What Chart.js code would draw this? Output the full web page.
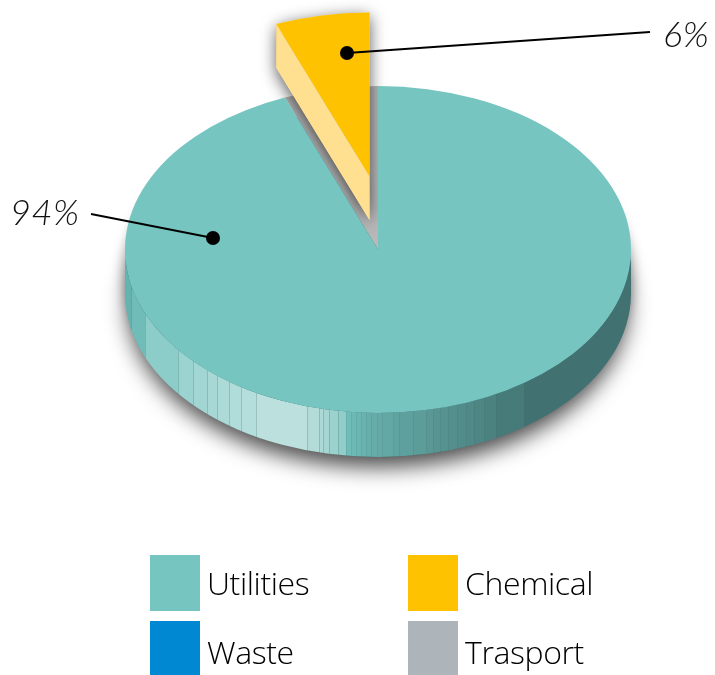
<!DOCTYPE html>
<html>
<head>
<meta charset="utf-8">
<script src="https://cdn.jsdelivr.net/npm/chart.js@4"></script>
<style>
html, body { margin: 0; padding: 0; background: #fff; }
#wrap { position: relative; width: 715px; height: 675px; overflow: hidden; }
canvas { position: absolute; left: 0; top: 0; }
.pct { position: absolute; font: italic 300 36px Lato, sans-serif; letter-spacing: 0.6px; color: #111; line-height: 1; white-space: nowrap; }
.box { position: absolute; width: 50px; }
.name { position: absolute; font: 300 32px "Open Sans", sans-serif; letter-spacing: -0.4px; color: #000; line-height: 1; white-space: nowrap; }
</style>
</head>
<body>
<div id="wrap"><canvas id="myChart" width="715" height="675"></canvas></div>
<script>
const categories = ['Utilities', 'Chemical', 'Waste', 'Trasport'];
const shares = [94, 6, 0, 0];
const colors = ['#77c5c1', '#ffc200', '#0089d2', '#adb5bb'];

const squash = 0.646;
const depth = 44;
const wedgeShift = { x: -8.5, y: -73.5 };
const wedgeWall = '#ffdf90';

// strips on the rim, [left edge in px, colour]
const rimBands = [
    [125, '#65b3af'], [131, '#6fbcb8'], [145, '#8ccdc9'], [178, '#9ad3cf'], [193, '#a2d6d3'],
    [207, '#a7d8d5'], [217, '#acdad7'], [229, '#b0dcd9'], [241, '#b4dedb'], [256, '#bbe0dd'],
    [307, '#b3dcd9'], [319, '#acd9d6'], [323, '#a5d6d3'], [329, '#9cd2ce'], [338, '#92cdc9'],
    [346, '#6fbcb8'], [351, '#6db9b5'], [356, '#6bb6b2'], [361, '#69b2ae'], [366, '#68afab'],
    [371, '#66aca8'], [377, '#65aaa6'], [382, '#64a8a4'], [393, '#60a3a0'], [399, '#5ea09d'],
    [413, '#5c9c99'], [426, '#5a9896'], [433, '#589592'], [440, '#56928f'], [448, '#548f8d'],
    [457, '#528c8a'], [466, '#508987'], [474, '#4e8684'], [484, '#4b8280'], [496, '#477b79'],
    [524, '#417170']
];

// leader lines for the two percentage labels
const leaders = [
    { from: [213, 238], to: [91, 214] },
    { from: [347, 53], to: [650, 32] }
];
const labelSpots = [[10, 193], [663, 15]];

const drawArc = (ctx, el, dx, dy) => {
    ctx.save();
    ctx.translate(el.x + dx, el.y + dy);
    ctx.scale(1, squash);
    ctx.translate(-el.x, -el.y);
    el.draw(ctx);
    ctx.restore();
};

const pie3d = {
    id: 'pie3d',
    beforeDatasetsDraw(chart) {
        const ctx = chart.ctx;
        const arcs = chart.getDatasetMeta(0).data;
        const main = arcs[0];
        const wedge = arcs[1];
        const cx = main.x, cy = main.y, R = main.outerRadius, Ry = R * squash;

        const rimPath = () => {
            ctx.beginPath();
            ctx.ellipse(cx, cy, R, Ry, 0, 0, Math.PI);
            ctx.lineTo(cx - R, cy + depth);
            ctx.ellipse(cx, cy + depth, R, Ry, 0, Math.PI, 0, true);
            ctx.closePath();
        };
        const onEdge = (angle, dx, dy) => [cx + dx + R * Math.cos(angle), cy + dy + Ry * Math.sin(angle)];

        // soft shadow under the whole disc
        ctx.save();
        ctx.fillStyle = '#417170';
        ctx.shadowColor = 'rgba(0,0,0,0.35)';
        ctx.shadowBlur = 14;
        ctx.beginPath();
        ctx.ellipse(cx, cy + depth / 2, R, Ry, 0, 0, Math.PI * 2);
        ctx.fill();
        ctx.shadowColor = 'rgba(0,0,0,0.72)';
        ctx.shadowBlur = 22;
        ctx.shadowOffsetY = 10;
        ctx.beginPath();
        ctx.ellipse(cx, cy + depth, R - 3, Ry, 0, 0, Math.PI * 2);
        ctx.fill();
        ctx.restore();

        // rim strips
        ctx.save();
        rimPath();
        ctx.clip();
        rimBands.forEach((band, i) => {
            const next = i < rimBands.length - 1 ? rimBands[i + 1][0] : cx + R + 1;
            ctx.fillStyle = band[1];
            ctx.fillRect(band[0], cy - 1, next - band[0], depth + Ry + 3);
            if (i > 0 && band[0] < 500) {
                ctx.fillStyle = band[0] < 346 ? 'rgba(50,100,100,0.25)' : 'rgba(50,100,100,0.12)';
                ctx.fillRect(band[0], cy - 1, 1, depth + Ry + 3);
            }
        });
        ctx.restore();

        // the empty notch the wedge came out of
        const a0 = wedge.startAngle, a1 = wedge.endAngle;
        ctx.save();
        ctx.fillStyle = '#b8b8b8';
        ctx.beginPath();
        ctx.moveTo(cx, cy);
        ctx.ellipse(cx, cy, R, Ry, 0, a0, a1);
        ctx.closePath();
        ctx.fill();
        ctx.restore();

        // pulled out wedge, side wall and shadow first
        const sx = wedgeShift.x, sy = wedgeShift.y;
        const corner = onEdge(a0, sx, sy);
        const tip = [cx + sx, cy + sy];
        const wallPath = () => {
            ctx.beginPath();
            ctx.moveTo(tip[0], tip[1]);
            ctx.lineTo(corner[0], corner[1]);
            ctx.lineTo(corner[0], corner[1] + depth);
            ctx.lineTo(tip[0], tip[1] + depth);
            ctx.closePath();
        };
        ctx.save();
        ctx.shadowColor = 'rgba(0,0,0,0.65)';
        ctx.shadowBlur = 16;
        ctx.shadowOffsetY = 4;
        ctx.fillStyle = wedgeWall;
        wallPath();
        ctx.fill();
        ctx.beginPath();
        ctx.moveTo(tip[0], tip[1]);
        ctx.ellipse(tip[0], tip[1], R, Ry, 0, a0, a1);
        ctx.closePath();
        ctx.fill();
        ctx.restore();
        ctx.fillStyle = wedgeWall;
        wallPath();
        ctx.fill();
        drawArc(ctx, wedge, sx, sy);

        // main disc on top, hides the wedge shadow that would fall on it
        drawArc(ctx, main, 0, 0);

        // leaders
        ctx.save();
        ctx.strokeStyle = '#000';
        ctx.fillStyle = '#000';
        ctx.lineWidth = 1.8;
        leaders.forEach(l => {
            ctx.beginPath();
            ctx.moveTo(l.from[0], l.from[1]);
            ctx.lineTo(l.to[0], l.to[1]);
            ctx.stroke();
            ctx.beginPath();
            ctx.arc(l.from[0], l.from[1], 7, 0, Math.PI * 2);
            ctx.fill();
        });
        ctx.restore();
        return false;
    }
};

const myChart = new Chart(document.getElementById('myChart'), {
    type: 'pie',
    data: {
        labels: categories,
        datasets: [{ data: shares, backgroundColor: colors, borderWidth: 0, radius: 253 }]
    },
    options: {
        responsive: false,
        animation: false,
        layout: { padding: { left: 41, bottom: 176 } },
        plugins: { legend: { display: false }, tooltip: { enabled: false } }
    },
    plugins: [pie3d]
});

// labels and legend as plain html
const wrap = document.getElementById('wrap');
const addEl = (cls, text, left, top) => {
    const el = document.createElement('div');
    el.className = cls;
    el.textContent = text;
    el.style.left = left + 'px';
    el.style.top = top + 'px';
    wrap.appendChild(el);
    return el;
};
labelSpots.forEach((spot, i) => addEl('pct', shares[i] + '%', spot[0], spot[1]));

const legendX = [150, 408];
const legendY = [555, 621];
const legendH = [56, 54];
const textY = [567, 636];
categories.forEach((name, i) => {
    const col = i === 0 || i === 2 ? 0 : 1;
    const row = i < 2 ? 0 : 1;
    const box = addEl('box', '', legendX[col], legendY[row]);
    box.style.height = legendH[row] + 'px';
    box.style.background = colors[i];
    addEl('name', name, legendX[col] + 57, textY[row]);
});
</script>
</body>
</html>
